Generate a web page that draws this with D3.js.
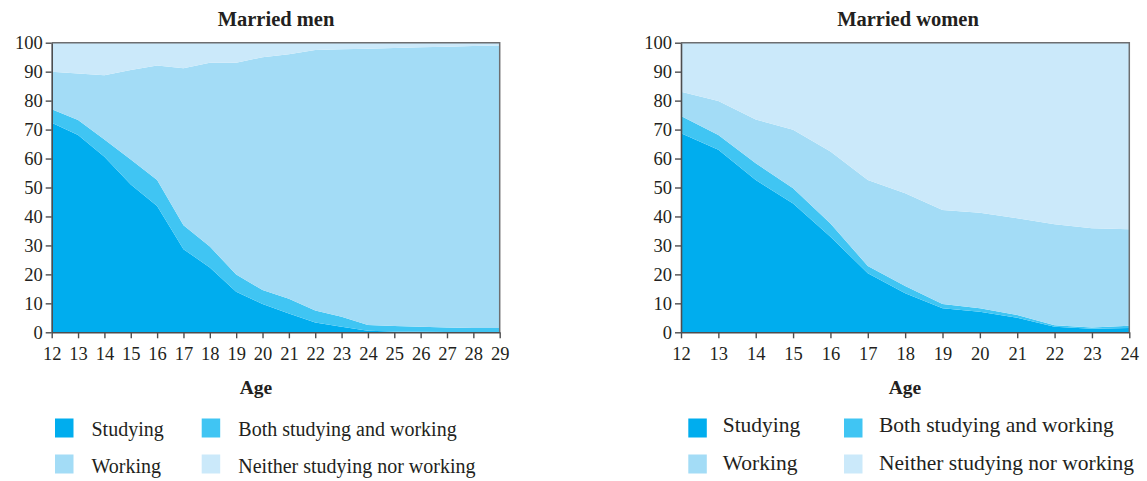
<!DOCTYPE html>
<html>
<head>
<meta charset="utf-8">
<script src="https://cdn.jsdelivr.net/npm/d3@7"></script>
<style>
  body { margin: 0; background: #fff; }
</style>
</head>
<body>
<svg id="chart" width="1147" height="481"></svg>
<script>
// series names, bottom to top
const seriesNames = ['Studying', 'Both studying and working', 'Working', 'Neither studying nor working'];
const seriesColors = ['#00adee', '#40c5f3', '#a3dcf6', '#cbe9fa'];

// married men, ages 12-29 (percent)
const menAges = [12, 13, 14, 15, 16, 17, 18, 19, 20, 21, 22, 23, 24, 25, 26, 27, 28, 29];
const menStudying = [72.4, 68.1, 60.6, 51.0, 43.6, 28.7, 22.4, 14.0, 9.8, 6.5, 3.4, 1.9, 0.5, 0.3, 0.2, 0.1, 0.1, 0.1];
const menBoth = [4.6, 5.2, 6.0, 8.7, 9.0, 8.3, 7.2, 6.0, 4.8, 5.1, 4.1, 3.5, 2.0, 1.9, 1.7, 1.6, 1.4, 1.4];
const menWorking = [13.0, 16.1, 22.2, 30.9, 39.5, 54.2, 63.5, 73.1, 80.4, 84.4, 90.0, 92.3, 95.4, 96.0, 96.5, 96.9, 97.4, 97.5];
const menNeither = [10.0, 10.6, 11.2, 9.4, 7.9, 8.8, 6.9, 6.9, 5.0, 4.0, 2.5, 2.3, 2.1, 1.8, 1.6, 1.4, 1.1, 1.0];

// married women, ages 12-24 (percent)
const womenAges = [12, 13, 14, 15, 16, 17, 18, 19, 20, 21, 22, 23, 24];
const womenStudying = [68.7, 63.0, 52.6, 44.5, 33.0, 20.4, 13.5, 8.3, 7.1, 5.0, 1.9, 1.2, 1.5];
const womenBoth = [6.0, 5.1, 5.8, 5.2, 4.6, 2.5, 2.5, 1.5, 1.2, 1.0, 0.5, 0.5, 0.8];
const womenWorking = [8.4, 11.8, 15.1, 20.2, 24.8, 29.7, 32.0, 32.4, 33.0, 33.4, 34.9, 34.2, 33.3];
const womenNeither = [16.9, 20.1, 26.5, 30.1, 37.6, 47.4, 52.0, 57.8, 58.7, 60.6, 62.7, 64.1, 64.4];

const yTicks = [0, 10, 20, 30, 40, 50, 60, 70, 80, 90, 100];

const FONT = 'Liberation Serif';
const svg = d3.select('#chart');

function drawPanel(opts) {
    const g = svg.append('g');
    const rows = opts.ages.map((age, i) => {
        let r = {age: age};
        opts.series.forEach((s, k) => { r[seriesNames[k]] = s[i]; });
        return r;
    });

    let x = d3.scaleLinear()
        .domain(d3.extent(opts.ages))
        .range([opts.left, opts.right]);
    let y = d3.scaleLinear()
        .domain([0, 100])
        .range([332.3, 42.7]);

    let stacked = d3.stack().keys(seriesNames)(rows);
    let area = d3.area()
        .x(d => x(d.data.age))
        .y0(d => y(d[0]))
        .y1(d => y(d[1]));

    g.selectAll('path.layer')
        .data(stacked)
        .join('path')
        .attr('class', 'layer')
        .attr('fill', (d, i) => seriesColors[i])
        .attr('d', area);

    // frame top & right
    g.append('path')
        .attr('d', `M${x.range()[0]},${y(100)}H${x.range()[1]}V${y(0)}`)
        .attr('fill', 'none')
        .attr('stroke', '#6d6e70')
        .attr('stroke-width', 1.5);

    let yAxis = g.append('g')
        .attr('transform', `translate(${opts.left},0)`)
        .call(d3.axisLeft(y).tickValues(yTicks).tickSize(6).tickPadding(3).tickSizeOuter(0));
    let xAxis = g.append('g')
        .attr('transform', `translate(0,${y(0)})`)
        .call(d3.axisBottom(x).tickValues(opts.ages).tickFormat(d3.format('d')).tickSize(6).tickPadding(9).tickSizeOuter(0));

    [yAxis, xAxis].forEach(a => {
        a.attr('font-family', FONT).attr('font-size', 18.5);
        a.selectAll('.domain').attr('stroke', '#4d4d4f').attr('stroke-width', 1.6);
        a.selectAll('.tick line').attr('stroke', '#4d4d4f').attr('stroke-width', 1.4);
        a.selectAll('text').attr('fill', '#231f20');
    });
    yAxis.selectAll('text').attr('dy', '0.34em');

    g.append('text')
        .attr('x', opts.titleX)
        .attr('y', 26)
        .attr('text-anchor', 'middle')
        .attr('font-family', FONT)
        .attr('font-weight', 'bold')
        .attr('font-size', 20.5)
        .attr('fill', '#231f20')
        .text(opts.title);

    g.append('text')
        .attr('x', opts.ageX)
        .attr('y', 394)
        .attr('text-anchor', 'middle')
        .attr('font-family', FONT)
        .attr('font-weight', 'bold')
        .attr('font-size', 19.5)
        .attr('fill', '#231f20')
        .text('Age');

    // legend, 2 x 2
    let leg = g.selectAll('g.leg')
        .data([0, 1, 2, 3])
        .join('g')
        .attr('class', 'leg');
    leg.append('rect')
        .attr('x', k => opts.legSq[k % 2])
        .attr('y', k => k < 2 ? 418.5 : 454.5)
        .attr('width', 18.5)
        .attr('height', 19)
        .attr('fill', k => seriesColors[k]);
    leg.append('text')
        .attr('x', k => opts.legTx[k % 2])
        .attr('y', k => k < 2 ? opts.legBase[0] : opts.legBase[1])
        .attr('font-family', FONT)
        .attr('font-size', opts.legFont)
        .attr('fill', '#231f20')
        .text(k => seriesNames[k]);
}

drawPanel({
    title: 'Married men',
    ages: menAges,
    series: [menStudying, menBoth, menWorking, menNeither],
    left: 51.7, right: 499.7,
    titleX: 276, ageX: 256,
    legSq: [55, 201.7], legTx: [91.5, 238.3],
    legBase: [436, 472.5], legFont: 20
});

drawPanel({
    title: 'Married women',
    ages: womenAges,
    series: [womenStudying, womenBoth, womenWorking, womenNeither],
    left: 681, right: 1129.3,
    titleX: 908, ageX: 905,
    legSq: [688.3, 844], legTx: [722.7, 879],
    legBase: [432, 470], legFont: 21.5
});
</script>
</body>
</html>
